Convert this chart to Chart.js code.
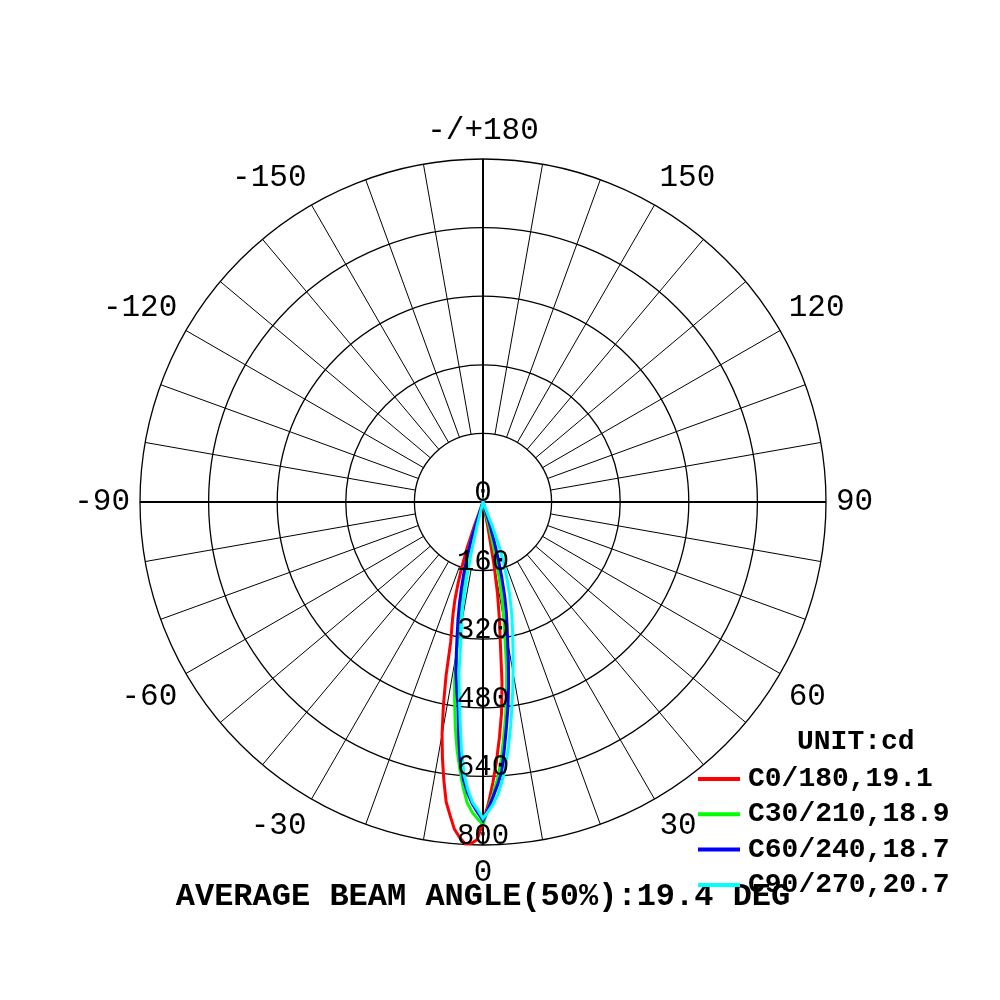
<!DOCTYPE html>
<html>
<head>
<meta charset="utf-8">
<script src="https://cdn.jsdelivr.net/npm/chart.js@4.4.1/dist/chart.umd.min.js"></script>
<style>
  html, body { margin: 0; padding: 0; background: #fff; }
  canvas { display: block; }
</style>
</head>
<body>
<canvas id="polar" width="1000" height="1000"></canvas>
<script>
// gamma angle in degrees (negative side is drawn on the left half)
const gammas = [-24, -23, -22, -21, -20, -19, -18, -17, -16, -15, -14, -13, -12, -11, -10, -9, -8, -7, -6, -5, -4, -3, -2, -1,
  0, 1, 2, 3, 4, 5, 6, 7, 8, 9, 10, 11, 12, 13, 14, 15, 16, 17, 18, 19, 20, 21, 22, 23, 24];

// luminous intensity (cd) for each C-plane pair
const c0 = [0, 0, 0, 0, 60, 117, 160, 200, 238, 270, 300, 335, 415, 484, 550, 605, 656, 705, 735, 766, 784, 798, 797, 788,
  747, 704, 656, 604, 550, 495, 424, 333, 274, 216, 146, 60, 0, 0, 0, 0, 0, 0, 0, 0, 0, 0, 0, 0, 0];
const c30 = [0, 0, 0, 0, 0, 0, 50, 104, 131, 157, 184, 211, 242, 291, 350, 424, 475, 530, 580, 624, 667, 703, 724, 739,
  752, 714, 680, 647, 605, 552, 503, 451, 396, 331, 283, 237, 181, 124, 60, 0, 0, 0, 0, 0, 0, 0, 0, 0, 0];
const c60 = [0, 0, 0, 0, 0, 0, 50, 100, 137, 173, 209, 245, 281, 316, 358, 403, 441, 479, 545, 609, 650, 681, 705, 724,
  743, 715, 687, 659, 630, 575, 525, 479, 428, 379, 331, 295, 261, 224, 180, 136, 90, 45, 0, 0, 0, 0, 0, 0, 0];
const c90 = [0, 0, 0, 0, 0, 0, 0, 0, 0, 0, 60, 126, 192, 248, 289, 332, 402, 453, 511, 578, 637, 672, 701, 718,
  738, 721, 704, 681, 650, 615, 571, 528, 484, 444, 404, 369, 335, 306, 279, 252, 225, 197, 170, 142, 114, 60, 0, 0, 0];

const seriesNames = ['C0/180,19.1', 'C30/210,18.9', 'C60/240,18.7', 'C90/270,20.7'];

// angle labels every 30 deg, going clockwise from the bottom
const angleTicks = ['0', '-30', '-60', '-90', '-120', '-150', '-/+180', '150', '120', '90', '60', '30'];
const intensityTicks = [0, 160, 320, 480, 640, 800];

// one radar label per degree, only every 30th one is shown
const labels = [];
for (let i = 0; i < 360; i++) labels.push(i % 30 === 0 ? angleTicks[i / 30] : '');

// gamma -> radar index (index grows clockwise from the bottom, i.e. towards negative gamma)
function toRadar(values) {
  const out = new Array(360).fill(0);
  gammas.forEach((g, k) => { out[(360 - g) % 360] = values[k]; });
  return out;
}

// tick numbers along the 0 axis + the unit/legend box
const polarExtras = {
  id: 'polarExtras',
  afterDatasetsDraw(chart) {
    const r = chart.scales.r;
    const ctx = chart.ctx;
    ctx.save();
    ctx.fillStyle = '#000';
    ctx.font = '29px "Liberation Mono", monospace';
    ctx.textAlign = 'center';
    ctx.textBaseline = 'alphabetic';
    intensityTicks.forEach(v => {
      ctx.fillText(String(v), r.xCenter, r.yCenter + r.getDistanceFromCenterForValue(v) - 1);
    });

    ctx.font = 'bold 28px "Liberation Mono", monospace';
    ctx.textAlign = 'left';
    ctx.textBaseline = 'middle';
    ctx.fillText('UNIT:cd', 797, 742);
    chart.data.datasets.forEach((ds, i) => {
      const y = 779 + i * 35.3;
      ctx.strokeStyle = ds.borderColor;
      ctx.lineWidth = 4;
      ctx.beginPath();
      ctx.moveTo(698, y);
      ctx.lineTo(740, y);
      ctx.stroke();
      ctx.fillText(ds.label, 748, y);
    });
    ctx.restore();
  }
};

new Chart(document.getElementById('polar'), {
  type: 'radar',
  data: {
    labels: labels,
    datasets: [
      { label: seriesNames[0], data: toRadar(c0), borderColor: '#ff0000', order: 3 },
      { label: seriesNames[1], data: toRadar(c30), borderColor: '#00ff00', order: 2 },
      { label: seriesNames[2], data: toRadar(c60), borderColor: '#0000ff', order: 1 },
      { label: seriesNames[3], data: toRadar(c90), borderColor: '#00ffff', order: 0 }
    ]
  },
  options: {
    responsive: false,
    animation: false,
    layout: { padding: { left: 25, right: 59, top: 113, bottom: 83.6 } },
    elements: {
      point: { radius: 0, hoverRadius: 0 },
      line: { tension: 0, borderWidth: 3, fill: false, backgroundColor: 'rgba(0,0,0,0)' }
    },
    plugins: {
      legend: { display: false },
      tooltip: { enabled: false },
      title: {
        display: true,
        position: 'bottom',
        text: 'AVERAGE BEAM ANGLE(50%):19.4 DEG',
        color: '#000',
        font: { family: '"Liberation Mono", monospace', size: 32, weight: 'bold' },
        padding: { top: -13, bottom: 0 }
      }
    },
    scales: {
      r: {
        startAngle: 180,
        min: 0,
        max: 800,
        ticks: { display: false, stepSize: 160 },
        grid: { circular: true, color: '#000', lineWidth: 1.3 },
        angleLines: {
          color: '#000',
          lineWidth: c => c.index % 90 === 0 ? 2 : (c.index % 10 === 0 ? 1 : 0),
          // spokes start at the 160 ring, main axes go through the centre
          borderDash: c => {
            if (c.index % 90 === 0) return [];
            const r160 = c.chart.scales.r.getDistanceFromCenterForValue(160);
            return [0, r160, 2000];
          }
        },
        pointLabels: {
          color: '#000',
          padding: 10,
          font: { family: '"Liberation Mono", monospace', size: 31, lineHeight: 36 / 31 }
        }
      }
    }
  },
  plugins: [polarExtras]
});
</script>
</body>
</html>
